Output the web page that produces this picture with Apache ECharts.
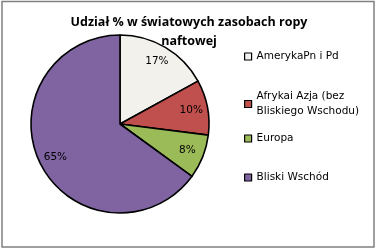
<!DOCTYPE html>
<html><head><meta charset="utf-8">
<script src="https://cdn.jsdelivr.net/npm/echarts@6/dist/echarts.min.js"></script>
<style>html,body{margin:0;padding:0;background:#fff}#c{width:377px;height:250px}</style>
</head><body><div id="c"></div>
<script>
const titleText = 'Udział % w światowych zasobach ropy\nnaftowej';
const categories = ['AmerykaPn i Pd', 'Afrykai Azja (bez\nBliskiego Wschodu)', 'Europa', 'Bliski Wschód'];
const values = [17, 10, 8, 65];
const colors = ['#F2F1EC', '#C0504D', '#9BBB59', '#8064A2'];

const chart = echarts.init(document.getElementById('c'), null, {renderer: 'canvas'});
const data = categories.map((n, i) => ({name: n, value: values[i], itemStyle: {color: colors[i]}}));
const legendTops = [49, 89, 131, 170];
const legendFont = {fontFamily: 'DejaVu Sans', fontSize: 10.5, color: '#000', lineHeight: 15};
const legends = categories.map((n, i) => ({
  data: [n], left: 244, top: legendTops[i], orient: 'vertical',
  icon: 'rect', itemWidth: 7, itemHeight: 7, itemGap: 4,
  itemStyle: {borderColor: '#000', borderWidth: 1.2},
  textStyle: legendFont, selectedMode: false, padding: 0
}));
chart.setOption({
  animation: false,
  backgroundColor: '#fff',
  title: {
    text: titleText, left: 184, textAlign: 'center', top: 8,
    textStyle: {fontFamily: 'Open Sans', fontWeight: 'bold', fontSize: 12.5, color: '#000', lineHeight: 19}
  },
  legend: legends,
  graphic: [{type: 'rect', shape: {x: 2, y: 1.5, width: 372, height: 245.5}, style: {fill: 'none', stroke: '#808080', lineWidth: 1.5}, silent: true}],
  series: [{
    type: 'pie', center: [120, 124], radius: [0, 89], startAngle: 90, clockwise: true,
    data: data, label: {show: false}, labelLine: {show: false},
    itemStyle: {borderColor: '#000', borderWidth: 1.6}, silent: true
  }, {
    type: 'pie', center: [120, 124], radius: [50, 89], startAngle: 90, clockwise: true,
    data: data.map(d => ({name: d.name, value: d.value, itemStyle: {color: 'rgba(0,0,0,0)'}})),
    itemStyle: {borderWidth: 0},
    label: {show: true, position: 'inside', formatter: '{d}%', fontFamily: 'DejaVu Sans', fontSize: 10.5, color: '#000'},
    labelLine: {show: false}, silent: true
  }]
});
</script></body></html>
